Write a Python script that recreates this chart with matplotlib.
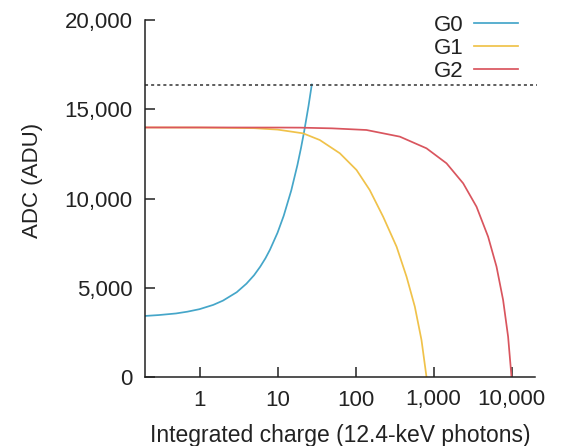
import matplotlib
matplotlib.use("Agg")
import matplotlib.pyplot as plt
from matplotlib.ticker import FixedLocator, NullLocator

plt.rcParams['font.family'] = ['Liberation Sans', 'DejaVu Sans']

# Data
g0_x = [0.2, 0.3, 0.5, 0.7, 1, 1.5, 2, 3, 4, 5, 6, 7, 8, 10, 12, 15, 18, 20, 22, 25, 27.5]
g0_y = [3420, 3470, 3560, 3660, 3800, 4040, 4280, 4750, 5230, 5700, 6180, 6650, 7130,
        8080, 9030, 10450, 11880, 12830, 13780, 15200, 16383]

g1_x = [0.2, 1, 5, 10, 21.3, 34.8, 63, 103, 152, 226, 336, 451, 576, 701, 813]
g1_y = [13980, 13975, 13940, 13860, 13650, 13277, 12532, 11597, 10476, 8980, 7300,
        5619, 3940, 2073, 0]

g2_x = [0.2, 1, 10, 19.3, 50, 138, 370, 813, 1469, 2400, 3558, 5010, 6425, 7800, 9040, 10000]
g2_y = [13980, 13980, 13975, 13970, 13930, 13838, 13465, 12811, 11970, 10850, 9540,
        7860, 6179, 4314, 2258, 0]

saturation = 16383
x_ticks = [1, 10, 100, 1000, 10000]
x_labels = ['1', '10', '100', '1,000', '10,000']
y_ticks = [0, 5000, 10000, 15000, 20000]
y_labels = ['0', '5,000', '10,000', '15,000', '20,000']

fig = plt.figure(figsize=(5.61, 4.46), dpi=100)
ax = fig.add_axes([145/561, 1-377/446, 390/561, 357/446])

c0, c1, c2 = '#45a6c9', '#f0c24a', '#d9555e'
ax.plot(g0_x, g0_y, color=c0, lw=1.25, label='G0')
ax.plot(g1_x, g1_y, color=c1, lw=1.25, label='G1')
ax.plot(g2_x, g2_y, color=c2, lw=1.25, label='G2')
ax.axhline(saturation, color='#333333', lw=1.1, ls=(0, (2, 2)), xmax=1.005, clip_on=False)

ax.set_xscale('log')
ax.set_xlim(0.2, 20000)
ax.set_ylim(0, 20000)
ax.xaxis.set_major_locator(FixedLocator(x_ticks))
ax.xaxis.set_minor_locator(NullLocator())
ax.set_xticklabels(x_labels)
ax.set_yticks(y_ticks)
ax.set_yticklabels(y_labels)

for s in ['top', 'right']:
    ax.spines[s].set_visible(False)
for s in ['left', 'bottom']:
    ax.spines[s].set_linewidth(1.1)
    ax.spines[s].set_color('#222222')

ax.tick_params(direction='in', length=7, width=1.1, labelsize=16, colors='#222222', pad=9)
ax.tick_params(axis='y', pad=9)

ax.set_xlabel('Integrated charge (12.4-keV photons)', fontsize=16.5, color='#222222', labelpad=10)
ax.set_ylabel('ADC (ADU)', fontsize=16, color='#222222')
ax.yaxis.set_label_coords(-0.262, 0.55)

leg = ax.legend(loc='upper right', bbox_to_anchor=(0.98, 1.04), frameon=False, markerfirst=False,
                fontsize=16, handlelength=2.0, handletextpad=0.45, labelspacing=0.1,
                borderaxespad=0.0)
for t in leg.get_texts():
    t.set_color('#222222')

fig.savefig('out.png', dpi=100)
